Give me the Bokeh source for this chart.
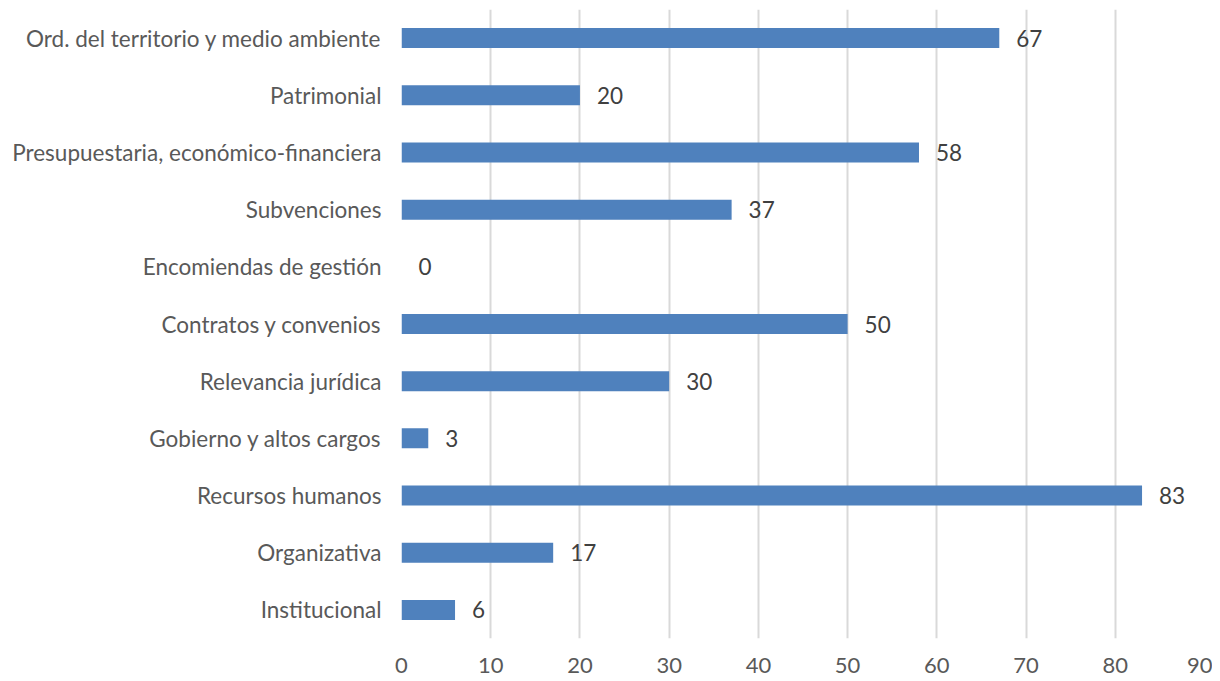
from bokeh.plotting import figure
from bokeh.models import ColumnDataSource, FactorRange, Range1d, FixedTicker
from bokeh.core.properties import value
from bokeh.embed import file_html
from bokeh.resources import INLINE

categories = ["Institucional", "Organizativa", "Recursos humanos", "Gobierno y altos cargos",
              "Relevancia jurídica", "Contratos y convenios", "Encomiendas de gestión",
              "Subvenciones", "Presupuestaria, económico-financiera", "Patrimonial",
              "Ord. del territorio y medio ambiente"]
values = [6, 17, 83, 3, 30, 50, 0, 37, 58, 20, 67]
x_ticks = [0, 10, 20, 30, 40, 50, 60, 70, 80, 90]

FONT = "Lato"
FS = "22.5px"

src = ColumnDataSource(dict(cat=categories, val=values, lab=[str(v) for v in values]))

p = figure(width=1212, height=680, y_range=FactorRange(*categories, range_padding=0),
           x_range=Range1d(0, 90), output_backend="svg", toolbar_location=None,
           min_border_left=401, min_border_right=8, min_border_top=9, min_border_bottom=42)
p.outline_line_color = None

p.hbar(y="cat", right="val", left=0, height=0.35, source=src,
       fill_color="#4f81bd", line_color=None)
p.text(x="val", y="cat", text="lab", source=src, x_offset=17,
       text_align="left", text_baseline="middle", text_font=value(FONT),
       text_font_size=FS, text_color="#404040")

p.xaxis.ticker = FixedTicker(ticks=x_ticks)
p.xaxis.axis_line_color = None
p.xaxis.major_tick_line_color = None
p.xaxis.minor_tick_line_color = None
p.xaxis.major_label_text_font = FONT
p.xaxis.major_label_text_font_size = "22px"
p.xaxis.major_label_text_color = "#595959"
p.xaxis.major_label_standoff = 13

p.yaxis.axis_line_color = None
p.yaxis.major_tick_line_color = None
p.yaxis.minor_tick_line_color = None
p.yaxis.major_label_text_font = FONT
p.yaxis.major_label_text_font_size = FS
p.yaxis.major_label_text_color = "#595959"
p.yaxis.major_label_standoff = 14

p.ygrid.grid_line_color = None
p.xgrid.grid_line_color = "#d9d9d9"
p.xgrid.grid_line_width = 2

open("out.html", "w").write(file_html(p, INLINE))
